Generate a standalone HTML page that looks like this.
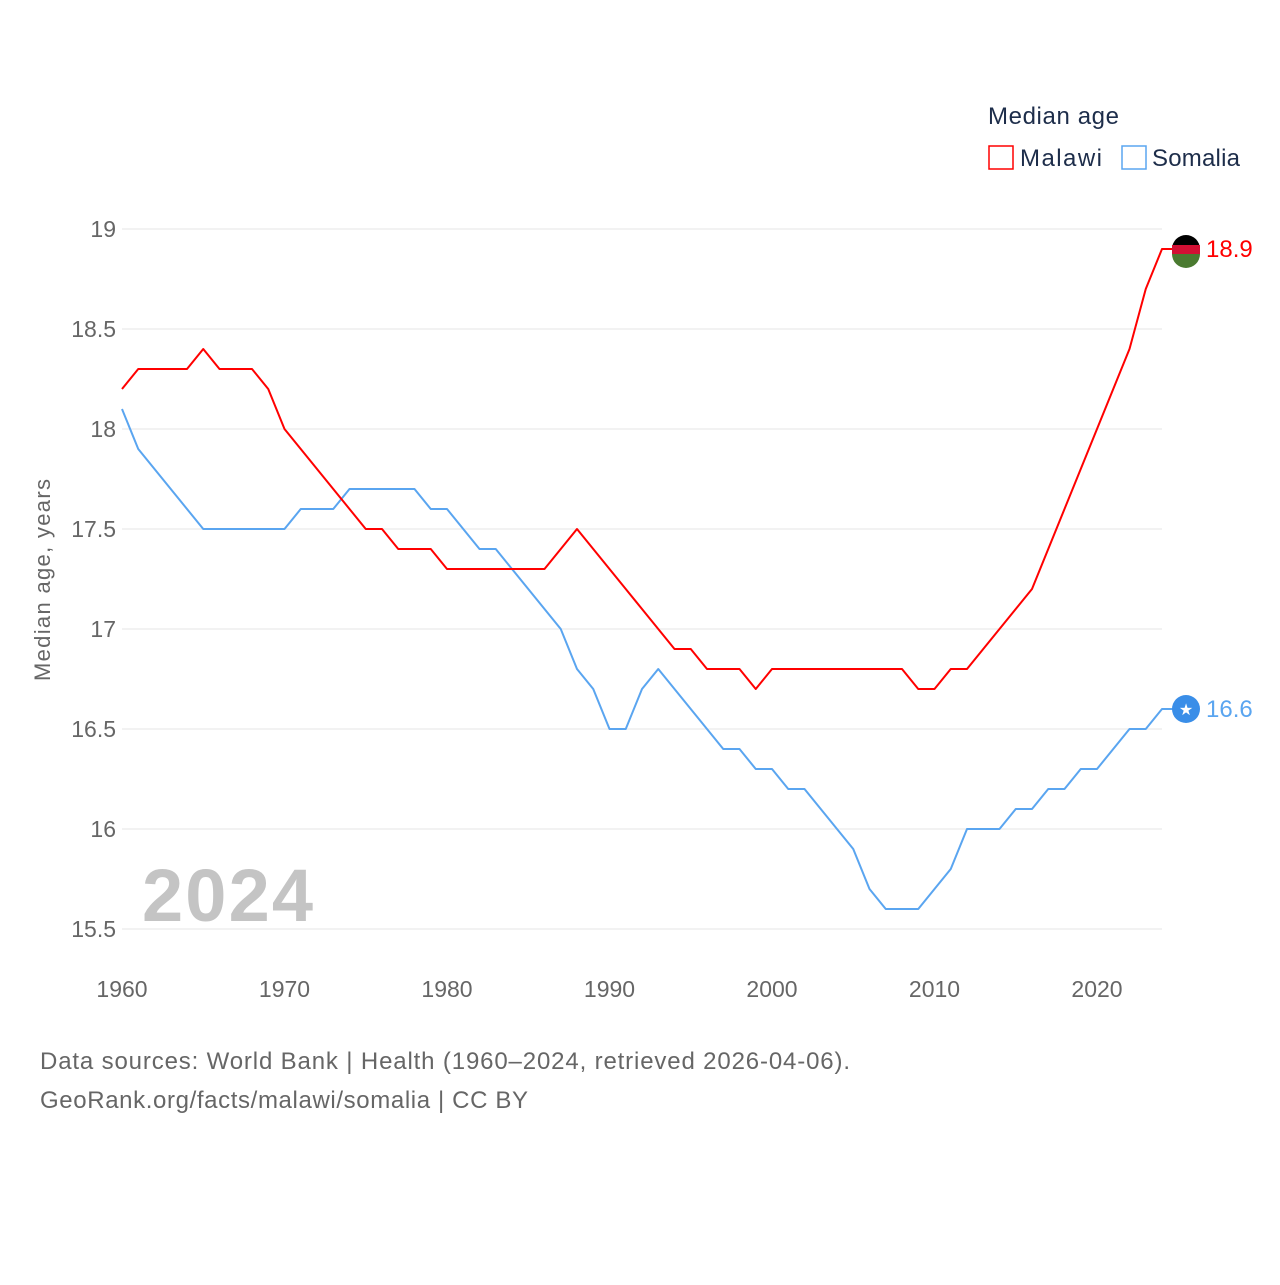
<!DOCTYPE html>
<html><head><meta charset="utf-8"><style>
body{margin:0;background:#fff;width:1280px;height:1280px;overflow:hidden;font-family:"Liberation Sans",sans-serif}
</style></head><body>
<svg width="1280" height="1280" xmlns="http://www.w3.org/2000/svg" style="font-family:'Liberation Sans',sans-serif">
<g id="grid"></g>
<g id="yt" font-size="23" fill="#666" text-anchor="end"></g>
<g id="xt" font-size="23" fill="#666" text-anchor="middle"></g>
<text transform="translate(50,580) rotate(-90)" text-anchor="middle" font-size="22" fill="#666" textLength="202">Median age, years</text>
<text x="142" y="921" font-size="74" font-weight="bold" fill="#c4c4c4" textLength="171">2024</text>
<g id="lines"></g>
<text x="988" y="124" font-size="24" fill="#1d2d4a" textLength="131">Median age</text>
<rect x="989" y="146" width="24" height="23" fill="none" stroke="#ff0000" stroke-width="1.5"/>
<text x="1020" y="166" font-size="24" fill="#1d2d4a" textLength="82">Malawi</text>
<rect x="1122" y="146" width="24" height="23" fill="none" stroke="#5aa5f0" stroke-width="1.5"/>
<text x="1152" y="166" font-size="24" fill="#1d2d4a" textLength="88">Somalia</text>
<text x="40" y="1069" font-size="24" fill="#666" textLength="810">Data sources: World Bank | Health (1960–2024, retrieved 2026-04-06).</text>
<text x="40" y="1108" font-size="24" fill="#666" textLength="488">GeoRank.org/facts/malawi/somalia | CC BY</text>
</svg>
<script>
const years=[];for(let y=1960;y<=2024;y++)years.push(y);
const malawi=[18.2,18.3,18.3,18.3,18.3,18.4,18.3,18.3,18.3,18.2,18.0,17.9,17.8,17.7,17.6,17.5,17.5,17.4,17.4,17.4,17.3,17.3,17.3,17.3,17.3,17.3,17.3,17.4,17.5,17.4,17.3,17.2,17.1,17.0,16.9,16.9,16.8,16.8,16.8,16.7,16.8,16.8,16.8,16.8,16.8,16.8,16.8,16.8,16.8,16.7,16.7,16.8,16.8,16.9,17.0,17.1,17.2,17.4,17.6,17.8,18.0,18.2,18.4,18.7,18.9];
const somalia=[18.1,17.9,17.8,17.7,17.6,17.5,17.5,17.5,17.5,17.5,17.5,17.6,17.6,17.6,17.7,17.7,17.7,17.7,17.7,17.6,17.6,17.5,17.4,17.4,17.3,17.2,17.1,17.0,16.8,16.7,16.5,16.5,16.7,16.8,16.7,16.6,16.5,16.4,16.4,16.3,16.3,16.2,16.2,16.1,16.0,15.9,15.7,15.6,15.6,15.6,15.7,15.8,16.0,16.0,16.0,16.1,16.1,16.2,16.2,16.3,16.3,16.4,16.5,16.5,16.6];
const yTicks=[15.5,16,16.5,17,17.5,18,18.5,19];
const xTicks=[1960,1970,1980,1990,2000,2010,2020];
const X=y=>122+(y-1960)*16.25, Y=v=>229+(19-v)*200;
const NS="http://www.w3.org/2000/svg";
function mk(t,a,p){const e=document.createElementNS(NS,t);for(const k in a)e.setAttribute(k,a[k]);p.appendChild(e);return e;}
const grid=document.getElementById('grid'),yt=document.getElementById('yt'),xt=document.getElementById('xt'),lines=document.getElementById('lines');
yTicks.forEach(v=>{const l=mk('line',{x1:122,x2:1162,y1:Y(v),y2:Y(v),stroke:'#e6e6e6','stroke-width':1},grid);


const t=mk('text',{x:116,y:Y(v)+8},yt);t.textContent=String(v);

});
xTicks.forEach(v=>{const t=mk('text',{x:X(v),y:997},xt);t.textContent=v;

});
function series(arr,col,name){
const last=arr[arr.length-1],cx=X(2024)+24,cy=Y(last);
const pts=arr.map((v,i)=>X(years[i])+','+Y(v));pts.push(cx+','+cy);
const p=mk('polyline',{points:pts.join(' '),fill:'none',stroke:col,'stroke-width':2,'stroke-linejoin':'round'},lines);


const c=mk('circle',{cx:cx,cy:cy,r:14,fill:col==='#ff0000'?'#000':'#3a8ee8'},lines);


if(name==='malawi'){mk('rect',{x:cx-14,y:cy-4,width:28,height:9,fill:'#d21034'},lines);mk('path',{d:`M${cx-14} ${cy+5} A14 14 0 0 0 ${cx+14} ${cy+5} Z`,fill:'#4a7a30'},lines);}
else{const s=mk('text',{x:cx,y:cy+6,'text-anchor':'middle','font-size':16,fill:'#fff'},lines);s.textContent='★';}
const t=mk('text',{x:cx+20,y:cy+8,'font-size':24,fill:col},lines);t.textContent=last.toFixed(1);


}
series(somalia,'#5aa5f0','somalia');
series(malawi,'#ff0000','malawi');
</script>
</body></html>
